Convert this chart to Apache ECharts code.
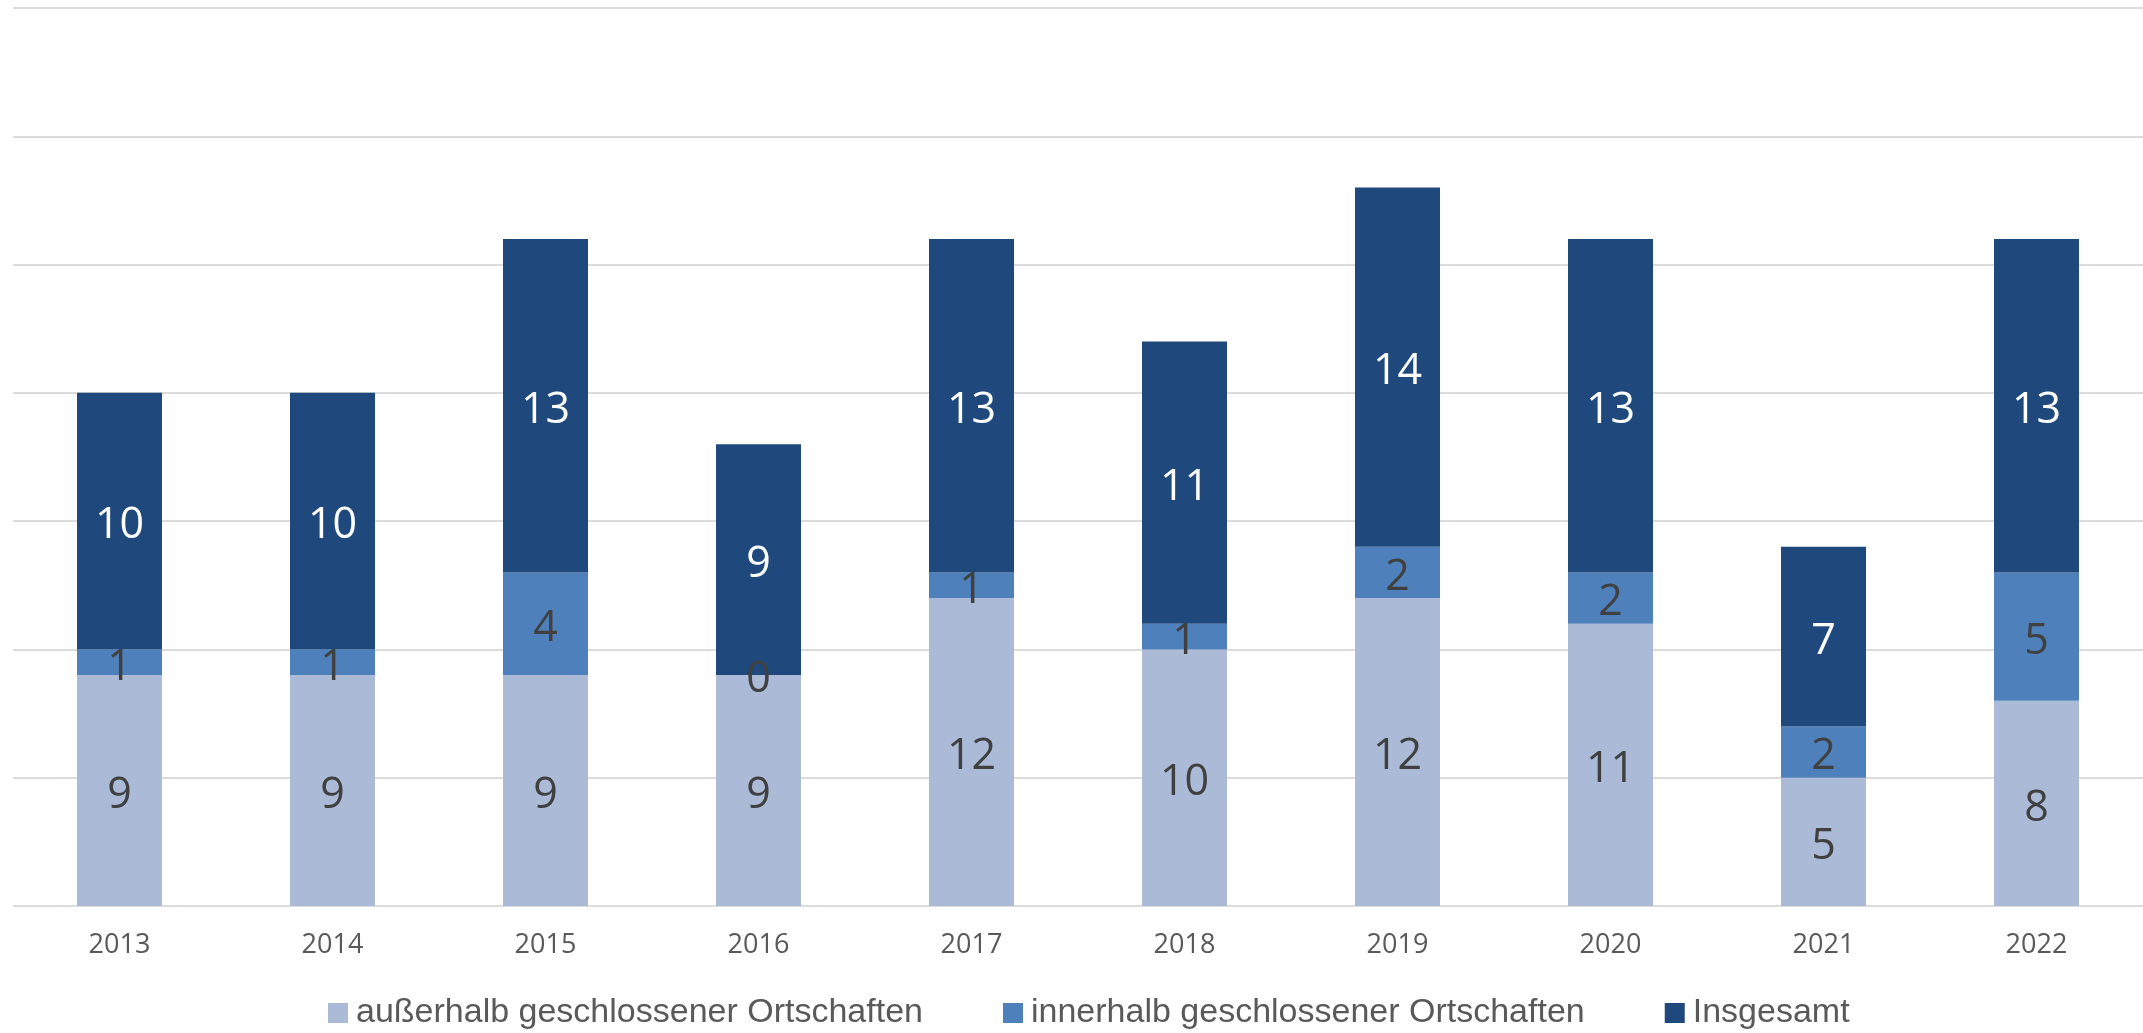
<!DOCTYPE html>
<html lang="de">
<head>
    <meta charset="UTF-8">
    <title>Verkehrstote 2013-2022</title>
    <script src="https://cdn.jsdelivr.net/npm/echarts@6/dist/echarts.min.js"></script>
    <style>
        html, body { margin: 0; padding: 0; background: #fff; }
        #main { width: 2143px; height: 1033px; }
    </style>
</head>
<body>
<div id="main"></div>
<script type="text/javascript">
    // Kategorien und Werte
    var years = ['2013', '2014', '2015', '2016', '2017', '2018', '2019', '2020', '2021', '2022'];
    var ausserhalb = [9, 9, 9, 9, 12, 10, 12, 11, 5, 8];
    var innerhalb = [1, 1, 4, 0, 1, 1, 2, 2, 2, 5];
    var insgesamt = [10, 10, 13, 9, 13, 11, 14, 13, 7, 13];

    var seriesNames = ['außerhalb geschlossener Ortschaften', 'innerhalb geschlossener Ortschaften', 'Insgesamt'];
    var colors = ['#abbad7', '#4e80bc', '#1f497c'];

    var myChart = echarts.init(document.getElementById('main'));

    function makeSeries(name, data, color, labelColor) {
        return {
            name: name,
            type: 'bar',
            stack: 'total',
            barWidth: 85,
            data: data,
            itemStyle: {color: color},
            label: {
                show: true,
                position: 'inside',
                offset: [0, 5],
                color: labelColor,
                fontFamily: 'Open Sans',
                fontSize: 43
            }
        };
    }

    var option = {
        animation: false,
        backgroundColor: '#ffffff',
        grid: {left: 13, right: 0, top: 8, bottom: 127},
        legend: {
            left: 323,
            top: 991,
            itemWidth: 20,
            itemHeight: 20,
            itemGap: 80,
            icon: 'rect',
            textStyle: {
                fontFamily: 'Liberation Sans',
                fontSize: 34,
                color: '#595959',
                padding: [0, 0, 0, 3]
            },
            data: seriesNames
        },
        xAxis: {
            type: 'category',
            data: years,
            axisLine: {show: false},
            axisTick: {show: false},
            axisLabel: {
                margin: 26,
                fontFamily: 'Open Sans',
                fontSize: 27,
                color: '#595959'
            }
        },
        yAxis: {
            type: 'value',
            min: 0,
            max: 35,
            interval: 5,
            axisLabel: {show: false},
            axisLine: {show: false},
            axisTick: {show: false},
            splitLine: {lineStyle: {color: '#dcdcdc', width: 2}}
        },
        series: [
            makeSeries(seriesNames[0], ausserhalb, colors[0], '#404040'),
            makeSeries(seriesNames[1], innerhalb, colors[1], '#404040'),
            makeSeries(seriesNames[2], insgesamt, colors[2], '#ffffff')
        ]
    };

    myChart.setOption(option);
</script>
</body>
</html>
